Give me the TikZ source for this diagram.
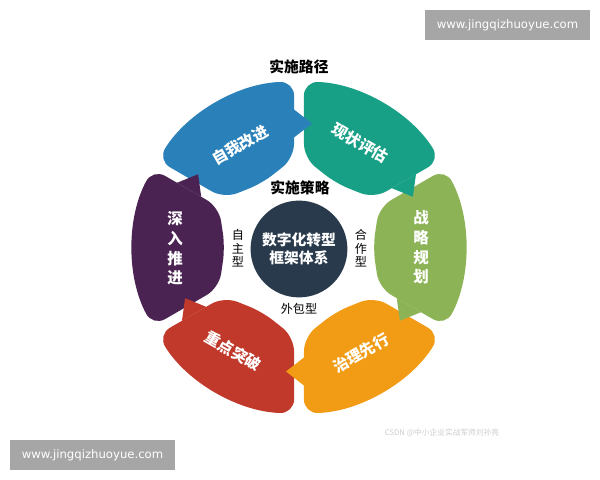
\documentclass[tikz,border=0pt]{standalone}
\usepackage{fontspec}
\setmainfont{Noto Sans CJK SC}
\newfontfamily\urlfont{DejaVu Sans}
\usetikzlibrary{positioning}
\definecolor{cblue}{HTML}{2A80B9}
\definecolor{cteal}{HTML}{18A086}
\definecolor{clime}{HTML}{8CB356}
\definecolor{corange}{HTML}{F29C16}
\definecolor{cred}{HTML}{C0392B}
\definecolor{cpurple}{HTML}{4A2352}
\definecolor{cnavy}{HTML}{283A4B}
\definecolor{cgray}{HTML}{A6A6A6}
\tikzset{
    seg/.style={text=white, font=\bfseries\fontsize{11}{14}\selectfont, align=center, inner sep=0},
    head/.style={font=\bfseries\fontsize{10.5}{12}\selectfont, inner sep=0},
    kind/.style={font=\fontsize{8.6}{9.6}\selectfont, align=center, inner sep=0},
    urlbox/.style={fill=cgray, text=white, font=\urlfont\fontsize{8.3}{10}\selectfont, minimum width=4.125cm, minimum height=0.75cm, inner sep=0}
}

\begin{document}
\begin{tikzpicture}[x=0.025cm, y=0.025cm]
\useasboundingbox (-299,-232.5) rectangle (301,247.5);

\foreach \a/\c in {120/cblue, 60/cteal, 0/clime, -60/corange, -120/cred, 180/cpurple}
{
    \fill[\c, rotate=\a, rounded corners=10pt] (80,40.4) -- (28.3:166) arc[start angle=28.3, end angle=-28.3, radius=166] -- (80,-40.4) -- (74,0) -- cycle;
}
\foreach \a/\c in {120/cblue, 60/cteal, 0/clime, -60/corange, -120/cred, 180/cpurple}
{
    \fill[\c, rotate=\a-30] (110,5)--(138,5)--(124,-13)--cycle;
}

\node (O) at (0,-1.5)[circle, fill=cnavy, minimum size=2.42cm, text=white, align=center, font=\bfseries\fontsize{10.5}{13}\selectfont]{数字化转型\\框架体系};

\node (A) at (-59,102.5)[seg, rotate=30]{自我改进};
\node (B) at (61,104.5)[seg, rotate=-30]{现状评估};
\node (C) at (122,0)[seg]{战\\略\\规\\划};
\node (D) at (62,-105.5)[seg, rotate=30]{治理先行};
\node (E) at (-66,-103.5)[seg, rotate=-30]{重点突破};
\node (F) at (-124,-1)[seg]{深\\入\\推\\进};

\node (S1) at (0,180.5)[head]{实施路径};
\node (S2) at (1,59.5)[head]{实施策略};

\node (K1) at (-61,-1)[kind]{自\\主\\型};
\node (K2) at (62,-1)[kind]{合\\作\\型};
\node (K3) at (0,-61.5)[kind]{外包型};

\node (W1) at (208.5,222.5)[urlbox]{www.jingqizhuoyue.com};
\node (W2) at (-206.5,-207.5)[urlbox]{www.jingqizhuoyue.com};
\node (W3) at (143,-185.5)[text=black!20, font=\fontsize{5.5}{6}\selectfont, inner sep=0]{CSDN @中小企业实战军师刘孙亮};
\end{tikzpicture}
\end{document}
